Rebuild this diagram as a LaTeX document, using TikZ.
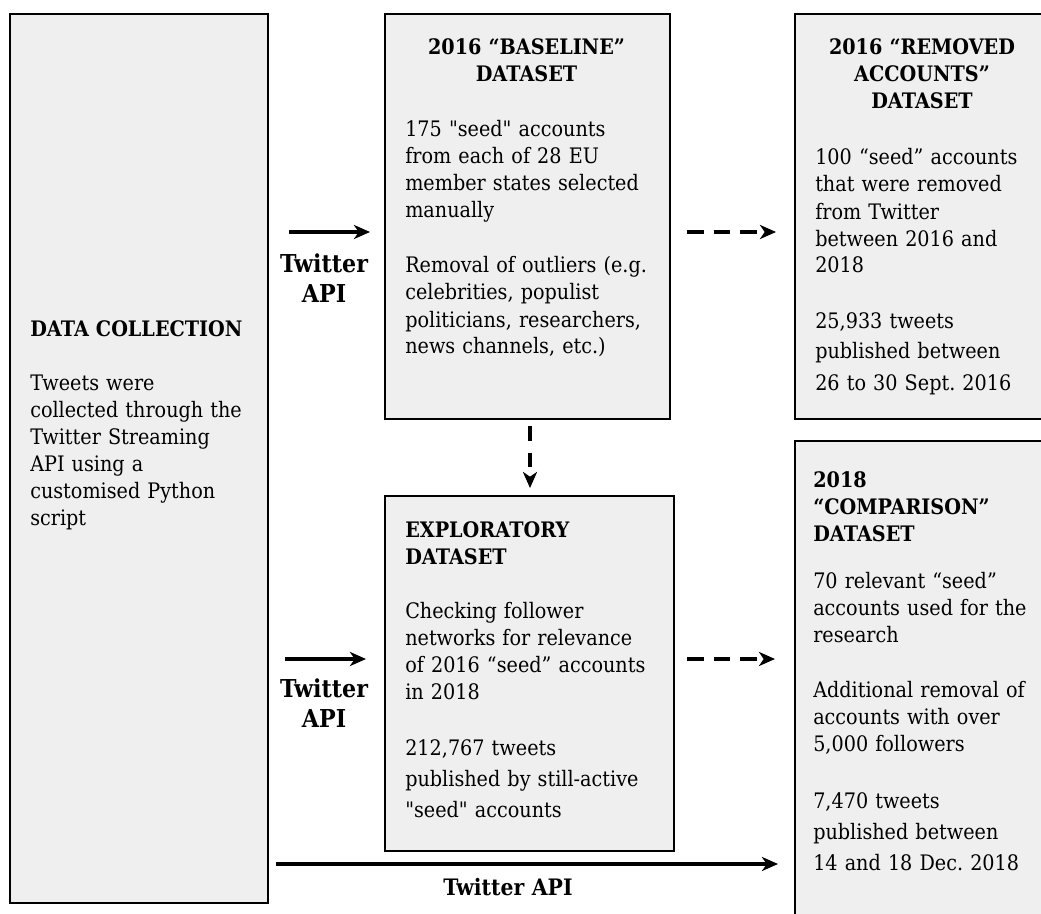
\documentclass[tikz,border=0pt]{standalone}
\usepackage{fontspec}
\setmainfont{DejaVu Serif}[FakeStretch=0.9, Ligatures=TeXOff]
\usetikzlibrary{arrows.meta}
\definecolor{boxfill}{HTML}{EFEFEF}
\frenchspacing
\tikzset{
  x=0.75pt, y=-0.75pt,
  box/.style={draw=black, fill=boxfill, line width=1.4pt, anchor=north west, inner sep=0pt},
  body/.style={inner sep=0pt, anchor=base west, align=left, text width=#1, font=\fontsize{16}{20.25}\selectfont},
  head/.style={inner sep=0pt, anchor=base, align=center, text width=#1, font=\fontsize{16}{20.25}\selectfont\bfseries},
  lab/.style={inner sep=0pt, anchor=base, align=center, text width=110pt, font=\fontsize{18.5}{22.5}\selectfont\bfseries},
  solidarrow/.style={line width=2.4pt, -{Stealth[length=12pt,width=10.5pt,inset=3.5pt]}},
  dasharrow/.style={line width=2.6pt, dash pattern=on 12.5pt off 7.5pt, -{Stealth[length=12pt,width=10.5pt,inset=3.5pt]}}
}
\begin{document}
\frenchspacing
\begin{tikzpicture}
\clip (0,0) rectangle (1041,913);
\fill[white] (0,0) rectangle (1041,913);

% boxes
\node[box, minimum width=193.5pt, minimum height=666.75pt] (dc) at (9,13) {};
\node[box, minimum width=213.75pt, minimum height=303.75pt] (base) at (384,13) {};
\node[box, minimum width=195pt, minimum height=303.75pt] (rem) at (794,13) {};
\node[box, minimum width=216.75pt, minimum height=266.25pt] (expl) at (384,495) {};
\node[box, minimum width=195pt, minimum height=360pt] (comp) at (794,440) {};

% texts
\node[body=180pt] (dctext) at (30,336) {\textbf{DATA COLLECTION}\\[20.25pt]Tweets were\\collected through the\\Twitter Streaming\\API using a\\customised Python\\script};

\node[head=200pt] (basehead) at (526.5,55) {2016 “BASELINE”\\DATASET};
\node[body=195pt] (basetext) at (405,137) {175 "seed" accounts\\from each of 28 EU\\member states selected\\manually\\[21pt]Removal of outliers (e.g.\\celebrities, populist\\politicians, researchers,\\news channels, etc.)};

\node[head=180pt] (remhead) at (922,55) {2016 “REMOVED\\ACCOUNTS”\\DATASET};
\node[body=180pt] (remtext) at (815,165) {100 “seed” accounts\\that were removed\\from Twitter\\between 2016 and\\2018\\[21pt]25,933 tweets\\[3pt]published between\\[3pt]26 to 30 Sept. 2016};

\node[body=200pt] (expltext) at (405,537) {\textbf{EXPLORATORY}\\\textbf{DATASET}\\[20.25pt]Checking follower\\networks for relevance\\of 2016 “seed” accounts\\in 2018\\[22pt]212,767 tweets\\[3pt]published by still-active\\[3pt]"seed" accounts};

\node[body=180pt] (comptext) at (813,487) {\textbf{2018}\\\textbf{“COMPARISON”}\\\textbf{DATASET}\\[15pt]70 relevant “seed”\\accounts used for the\\research\\[21pt]Additional removal of\\accounts with over\\5,000 followers\\[23pt]7,470 tweets\\[3pt]published between\\[3pt]14 and 18 Dec. 2018};

% arrow end points
\coordinate (a1s) at (289,232);
\coordinate (a1e) at (370,232);
\coordinate (d1s) at (687,232);
\coordinate (d1e) at (776,232);
\coordinate (a2s) at (285,659);
\coordinate (a2e) at (366,659);
\coordinate (d2s) at (687,659);
\coordinate (d2e) at (775,659);
\coordinate (a3s) at (276,864);
\coordinate (a3e) at (778,864);
\coordinate (vs) at (530,426);
\coordinate (ve) at (530,488);

\draw[solidarrow] (a1s) -- (a1e);
\draw[dasharrow] (d1s) -- (d1e);
\draw[solidarrow] (a2s) -- (a2e);
\draw[dasharrow] (d2s) -- (d2e);
\draw[solidarrow] (a3s) -- (a3e);
\draw[dasharrow, dash pattern=on 11pt off 9pt] (vs) -- (ve);

\node[lab] (lab1) at (324,272) {Twitter\\API};
\node[lab] (lab2) at (324,697) {Twitter\\API};
\node[lab, font=\fontsize{17}{22}\selectfont\bfseries] (lab3) at (508,895) {Twitter API};
\end{tikzpicture}
\end{document}
